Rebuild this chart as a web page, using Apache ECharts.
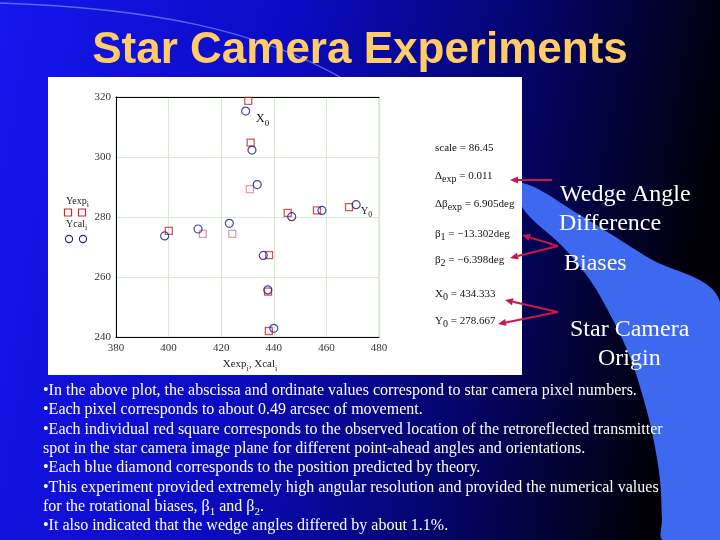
<!DOCTYPE html>
<html><head><meta charset="utf-8">
<script src="https://cdn.jsdelivr.net/npm/echarts@6/dist/echarts.min.js"></script>
<style>html,body{margin:0;padding:0;background:#000;}#c{width:720px;height:540px;}</style>
</head><body><div id="c"></div>
<script>
// ---- data ----
const xTicks = [380, 400, 420, 440, 460, 480];
const yTicks = [240, 260, 280, 300, 320];
// measured spot locations (red squares)
const expDarkX  = [430.3, 431.2, 445.3, 456.4, 468.6, 400.1, 438.2, 437.8, 438.1];
const expDarkY  = [318.7, 304.8, 281.4, 282.2, 283.3, 275.4, 267.3, 255.1, 242.0];
const expLightX = [430.9, 413.0, 424.2];
const expLightY = [289.3, 274.4, 274.4];
// predicted positions (blue circles)
const calX = [429.3, 431.7, 433.7, 446.8, 458.3, 471.3, 398.5, 411.2, 423.1, 436.0, 437.7, 440.0];
const calY = [315.3, 302.3, 290.8, 280.1, 282.2, 284.1, 273.7, 276.0, 277.9, 267.2, 255.7, 242.9];
// fitted parameters
const scaleVal = '86.45', deltaExp = '0.011', dBetaExp = '6.905deg';
const beta1 = '\u221213.302deg', beta2 = '\u22126.398deg', X0 = '434.333', Y0 = '278.667';
const bulletLines = [
  '\u2022In the above plot, the abscissa and ordinate values correspond to star camera pixel numbers.',
  '\u2022Each pixel corresponds to about 0.49 arcsec of movement.',
  '\u2022Each individual red square corresponds to the observed location of the retroreflected transmitter',
  'spot in the star camera image plane for different point-ahead angles and orientations.',
  '\u2022Each blue diamond corresponds to the position predicted by theory.',
  '\u2022This experiment provided extremely high angular resolution and provided the numerical values',
  'for the rotational biases, \u03b2{s|1} and \u03b2{s|2}.',
  '\u2022It also indicated that the wedge angles differed by about 1.1%.'
];

const zip = (a, b) => a.map((v, i) => [v, b[i]]);
const serif = '"Liberation Serif","Times New Roman",serif';

const chart = echarts.init(document.getElementById('c'), null, {renderer: 'canvas'});

function rtext(x, y, text, size, color, subSize, subDrop, align) {
  return {
    type: 'text', z: 50,
    style: {
      x: x, y: y, text: text,
      fontFamily: serif, fontSize: size, fill: color,
      textAlign: align || 'left', textVerticalAlign: 'middle',
      rich: {
        m: {fontFamily: serif, fontSize: size, fill: color, lineHeight: size + 2 * subDrop, verticalAlign: 'middle'},
        s: {fontFamily: serif, fontSize: subSize, fill: color, lineHeight: subSize, verticalAlign: 'bottom'}
      }
    }
  };
}
function arrow(x1, y1, x2, y2) {
  const ang = Math.atan2(y2 - y1, x2 - x1), L = 8, W = 3.5;
  const bx = x2 - L * Math.cos(ang), by = y2 - L * Math.sin(ang);
  const px = -Math.sin(ang) * W, py = Math.cos(ang) * W;
  return [
    {type: 'line', z: 60, shape: {x1: x1, y1: y1, x2: bx, y2: by}, style: {stroke: '#cc1548', lineWidth: 2}},
    {type: 'polygon', z: 60, shape: {points: [[x2, y2], [bx + px, by + py], [bx - px, by - py]]}, style: {fill: '#cc1548'}}
  ];
}

const graphics = [
  // slide background
  {type: 'rect', z: -20, shape: {x: 0, y: 0, width: 720, height: 540},
   style: {fill: new echarts.graphic.LinearGradient(0, 0, 1, 0.25, [
     {offset: 0, color: '#1616ee'}, {offset: 0.4, color: '#0b0bc4'},
     {offset: 0.72, color: '#04046a'}, {offset: 1, color: '#000006'}])}},
  // light swoosh
  {type: 'polygon', z: -19, shape: {smooth: 0.35, points: [
     [522, 183], [580, 215], [647, 257], [720, 302], [720, 540], [663, 540], [662, 520],
     [660, 480], [653, 437], [643, 397], [630, 357], [613, 320], [590, 280], [563, 247], [522, 207]]},
   style: {fill: '#3d68f0'}},
  // thin arc top-left
  {type: 'bezierCurve', z: -18, shape: {x1: 0, y1: 3, cpx1: 150, cpy1: 8, cpx2: 260, cpy2: 30, x2: 345, y2: 80},
   style: {stroke: 'rgba(150,175,255,0.55)', lineWidth: 1.5, fill: null}},
  // white panel
  {type: 'rect', z: -10, shape: {x: 48, y: 77, width: 474, height: 298}, style: {fill: '#ffffff'}},
  // axis titles
  rtext(66, 201, '{m|Yexp}{s|i}', 10, '#222', 8, 3),
  rtext(66, 224, '{m|Ycal}{s|i}', 10, '#222', 8, 3),
  {type: 'rect', z: 50, shape: {x: 64.5, y: 209, width: 7, height: 7}, style: {fill: null, stroke: '#cc2a2a', lineWidth: 1.2}},
  {type: 'rect', z: 50, shape: {x: 78.5, y: 209, width: 7, height: 7}, style: {fill: null, stroke: '#cc2a2a', lineWidth: 1.2}},
  {type: 'circle', z: 50, shape: {cx: 69, cy: 239, r: 3.6}, style: {fill: null, stroke: '#1c1c8c', lineWidth: 1.1}},
  {type: 'circle', z: 50, shape: {cx: 83, cy: 239, r: 3.6}, style: {fill: null, stroke: '#1c1c8c', lineWidth: 1.1}},
  rtext(250, 364, '{m|Xexp}{s|i}{m|, Xcal}{s|i}', 11, '#222', 8, 3, 'center'),
  // in-plot labels
  rtext(256, 119, '{m|X}{s|0}', 12, '#111', 9, 3),
  rtext(361, 211, '{m|Y}{s|0}', 10, '#111', 8, 3),
  // fitted parameters
  rtext(435, 148, '{m|scale = ' + scaleVal + '}', 11, '#111', 10, 3),
  rtext(435, 176, '{m|\u0394}{s|exp}{m| = ' + deltaExp + '}', 11, '#111', 10, 3),
  rtext(435, 204, '{m|\u0394\u03b2}{s|exp}{m| = ' + dBetaExp + '}', 11, '#111', 10, 3),
  rtext(435, 234, '{m|\u03b2}{s|1}{m| = ' + beta1 + '}', 11, '#111', 10, 3),
  rtext(435, 260, '{m|\u03b2}{s|2}{m| = ' + beta2 + '}', 11, '#111', 10, 3),
  rtext(435, 294, '{m|X}{s|0}{m| = ' + X0 + '}', 11, '#111', 10, 3),
  rtext(435, 321, '{m|Y}{s|0}{m| = ' + Y0 + '}', 11, '#111', 10, 3),
  // right callouts
  {type: 'text', z: 50, style: {x: 560, y: 183, text: 'Wedge Angle', fontFamily: serif, fontSize: 24, fill: '#fff', textVerticalAlign: 'alphabetic'}},
  {type: 'text', z: 50, style: {x: 559, y: 212, text: 'Difference', fontFamily: serif, fontSize: 24, fill: '#fff', textVerticalAlign: 'alphabetic'}},
  {type: 'text', z: 50, style: {x: 564, y: 252, text: 'Biases', fontFamily: serif, fontSize: 24, fill: '#fff', textVerticalAlign: 'alphabetic'}},
  {type: 'text', z: 50, style: {x: 570, y: 318, text: 'Star Camera', fontFamily: serif, fontSize: 24, fill: '#fff', textVerticalAlign: 'alphabetic'}},
  {type: 'text', z: 50, style: {x: 598, y: 347, text: 'Origin', fontFamily: serif, fontSize: 24, fill: '#fff', textVerticalAlign: 'alphabetic'}}
].concat(
  arrow(552, 180, 510, 180),
  arrow(558, 246, 522, 235),
  arrow(558, 246, 510, 258),
  arrow(558, 312, 505, 300),
  arrow(558, 312, 498, 324)
);
// bullet text
const lineY = [391, 410, 430, 449, 468, 488, 507, 526];
bulletLines.forEach((t, i) => {
  graphics.push({type: 'text', z: 50, style: {
    x: 43, y: lineY[i], text: '{m|' + t.replace(/\{s\|(\w+)\}/g, '}{s|$1}{m|') + '}',
    fontFamily: serif, fontSize: 16, fill: '#fff', textVerticalAlign: 'middle',
    rich: {m: {fontFamily: serif, fontSize: 16, fill: '#fff', lineHeight: 22, verticalAlign: 'middle'},
           s: {fontFamily: serif, fontSize: 11, fill: '#fff', lineHeight: 11, verticalAlign: 'bottom'}}
  }});
});

const axisLbl = {fontFamily: serif, fontSize: 11, color: '#333'};
chart.setOption({
  animation: false,
  backgroundColor: 'transparent',
  title: {text: 'Star Camera Experiments', left: 'center', top: 24,
    textStyle: {fontFamily: '"Liberation Sans", Arial, sans-serif', fontWeight: 'bold', fontSize: 44, color: '#ffcc66'}},
  grid: {left: 116, right: 341, top: 97, bottom: 203, show: true, borderColor: '#bfe0bf', borderWidth: 1},
  xAxis: [
    {type: 'value', min: xTicks[0], max: xTicks[xTicks.length - 1], interval: 20,
     axisLine: {show: true, lineStyle: {color: '#000'}}, axisTick: {show: false},
     splitLine: {show: true, lineStyle: {color: '#d2ead2'}}, axisLabel: Object.assign({margin: 6}, axisLbl)},
    {type: 'value', position: 'top', min: xTicks[0], max: xTicks[xTicks.length - 1], interval: 20,
     axisLine: {show: true, lineStyle: {color: '#000'}}, axisTick: {show: false},
     axisLabel: {show: false}, splitLine: {show: false}}
  ],
  yAxis: {type: 'value', min: yTicks[0], max: yTicks[yTicks.length - 1], interval: 20,
     axisLine: {show: true, lineStyle: {color: '#000'}}, axisTick: {show: false},
     splitLine: {show: true, lineStyle: {color: '#d2ead2'}}, axisLabel: Object.assign({margin: 5}, axisLbl)},
  series: [
    {name: 'Yexp', type: 'scatter', data: zip(expDarkX, expDarkY), symbol: 'rect', symbolSize: 7,
     itemStyle: {color: 'rgba(0,0,0,0)', borderColor: '#cc2a2a', borderWidth: 1.3}, z: 3},
    {name: 'Yexp (light)', type: 'scatter', data: zip(expLightX, expLightY), symbol: 'rect', symbolSize: 7,
     itemStyle: {color: 'rgba(0,0,0,0)', borderColor: '#e08888', borderWidth: 1.3}, z: 3},
    {name: 'Ycal', type: 'scatter', data: zip(calX, calY), symbol: 'circle', symbolSize: 8,
     itemStyle: {color: 'rgba(0,0,0,0)', borderColor: '#1c1c8c', borderWidth: 1.2}, z: 4}
  ],
  graphic: graphics
});
</script></body></html>
